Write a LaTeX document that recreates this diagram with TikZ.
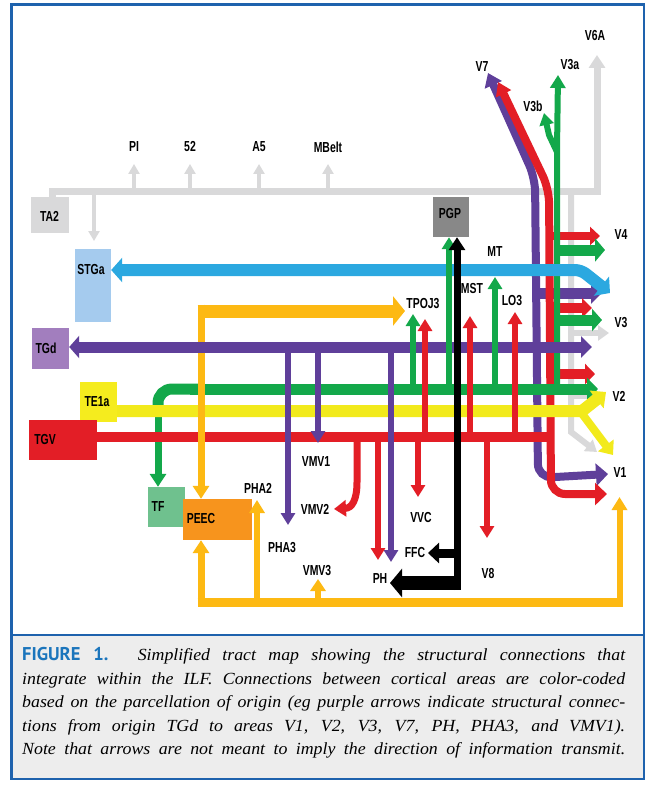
\documentclass[tikz,border=0pt]{standalone}
\usepackage{fontspec}
\setmainfont{Liberation Serif}
\newfontfamily\capfont[FakeStretch=1.05]{Liberation Serif}
\newfontfamily\lblfont[FakeStretch=0.72]{Liberation Sans}
\newfontfamily\figfont{PT Sans}
\usetikzlibrary{arrows.meta}
\definecolor{cred}{HTML}{E31E26}
\definecolor{cgreen}{HTML}{13A84A}
\definecolor{cpurple}{HTML}{5F3F9A}
\definecolor{cyellow}{HTML}{F2EA1C}
\definecolor{cgold}{HTML}{FDB913}
\definecolor{cblue}{HTML}{2BA8E0}
\definecolor{cgray}{HTML}{D9D9DA}
\definecolor{frameblue}{HTML}{1E62AD}
\definecolor{capgray}{HTML}{EDEDED}
\definecolor{captitle}{HTML}{1B75BC}
\definecolor{boxtgd}{HTML}{A27EBE}
\definecolor{boxstga}{HTML}{A5CBEE}
\definecolor{boxtf}{HTML}{6FC18E}
\definecolor{boxpeec}{HTML}{F7941D}
\definecolor{boxpgp}{HTML}{888888}
\definecolor{boxte}{HTML}{F5EC1E}
\begin{document}
\begin{tikzpicture}[x=1pt,y=-1pt,
  lbl/.style={font=\lblfont\bfseries\fontsize{14.5}{15}\selectfont, inner sep=0pt},
  area/.style={inner sep=0pt, draw=none},
  sh/.style={-{Triangle[width=14pt,length=12pt]}},
  thin/.style={line width=6pt},
]
\useasboundingbox (0,0) rectangle (647,786);
\fill[white] (0,0) rectangle (647,786);
\fill[capgray] (11.5,635) rectangle (644,779);
\draw[frameblue, line width=2.6pt] (11.5,4.5) rectangle (644,779);
\draw[frameblue, line width=2.6pt] (11.5,635) -- (644,635);

% ---------- boxes ----------
\node[area, fill=cgray, minimum width=38pt, minimum height=36pt] (ta2) at (50,215) {};
\node[area, fill=boxstga, minimum width=36pt, minimum height=73pt] (stga) at (93,285.5) {};
\node[area, fill=boxtgd, minimum width=37pt, minimum height=41pt] (tgd) at (50.5,348.5) {};
\node[area, fill=boxte, minimum width=37pt, minimum height=40pt] (te1a) at (98.5,402) {};
\node[area, fill=cred, minimum width=68pt, minimum height=40pt] (tgv) at (63,440) {};
\node[area, fill=boxpgp, minimum width=36pt, minimum height=40pt] (pgp) at (451,217) {};
\node[area, fill=boxtf, minimum width=37pt, minimum height=40pt] (tf) at (166.5,507) {};
\node[area, fill=boxpeec, minimum width=69pt, minimum height=41pt] (peec) at (217.5,519.5) {};

% ---------- gray (TA2) ----------
\draw[cgray, line width=7pt, -{Triangle[width=16pt,length=13pt]}] (52,198) |- (597,192) -- (597,55);
\foreach \xx in {134,190,259,328}
  \draw[cgray, line width=4pt, -{Triangle[width=11pt,length=10pt]}] (\xx,192) -- (\xx,164);
\draw[cgray, line width=4pt, -{Triangle[width=11pt,length=10pt]}] (94,192) -- (94,241);
\draw[cgray, line width=6pt, -{Triangle[width=14pt,length=11pt]}] (571,192) -- (571,432) -- (597,452);
\draw[cgray, line width=6pt, -{Triangle[width=15pt,length=11pt]}] (571,333) -- (609,333);
\draw[cgray, line width=6pt, -{Triangle[width=15pt,length=11pt]}] (571,396) -- (600,396);

% ---------- right bundles ----------
\draw[cpurple, line width=8pt, rounded corners=14pt, {Triangle[width=18pt,length=13pt]}-{Triangle[width=22pt,length=12pt]}] (488,73) -- (535,178) -- (538,478) -- (608,474);
\draw[cpurple, line width=11pt, -{Triangle[width=21pt,length=11pt]}] (536,293) -- (602,293);

\draw[cred, line width=8pt, rounded corners=14pt, {Triangle[width=16pt,length=13pt]}-{Triangle[width=22pt,length=12pt]}] (498,82) -- (549,189) -- (551,494) -- (607,494);
\draw[cred, line width=8pt, -{Triangle[width=18pt,length=10pt]}] (549,236) -- (600,236);
\draw[cred, line width=10pt, -{Triangle[width=19pt,length=10pt]}] (549,308) -- (592,308);
\draw[cred, line width=10pt, -{Triangle[width=20pt,length=10pt]}] (549,374) -- (595,374);

\draw[cgreen, line width=6pt, {Triangle[width=15pt,length=13pt]}-] (558,75) -- (557,150) -- (557,389);
\draw[cgreen, line width=6pt, -{Triangle[width=14pt,length=12pt]}] (557,152) -- (549,135) -- (544,113);
\draw[cgreen, line width=11pt, -{Triangle[width=23pt,length=10pt]}] (557,250) -- (605,250);
\draw[cgreen, line width=11pt, -{Triangle[width=22pt,length=10pt]}] (557,320) -- (602,320);

% ---------- main horizontals ----------
\draw[cblue, line width=12pt, rounded corners=6pt, {Triangle[width=24pt,length=11pt]}-{Triangle[width=24pt,length=11pt]}] (stga.east |- 0,270) -- (581,270) -- (610,293);

\draw[cgreen, line width=11pt, -{Triangle[width=22pt,length=11pt]}] (190,389) -- (598,389);
\draw[cgreen, line width=11pt, rounded corners=14pt] (200,389) -- (158,389) -- (158,414);
\draw[cgreen, line width=7pt, -{Triangle[width=16pt,length=13pt]}] (158,408) -- (tf.north -| 158,0);

\draw[cyellow, line width=12pt, -{Triangle[width=22pt,length=12pt]}] (te1a.east |- 0,411) -- (582,411) -- (606,392);
\draw[cyellow, line width=8pt, -{Triangle[width=19pt,length=12pt]}] (580,411) -- (613,455);

\draw[cred, line width=10pt] (tgv.east |- 0,437) -- (551,437);

% ---------- gold (PEEC) ----------
\draw[cgold, line width=7pt, -{Triangle[width=16pt,length=13pt]}] (201,304.5) -- (peec.north -| 201,0);
\draw[cgold, line width=9pt] (197.5,602) -- (623,602);
\draw[cgold, line width=7pt, -{Triangle[width=16pt,length=13pt]}] (201,606) -- (peec.south -| 201,0);
\draw[cgold, line width=6pt, -{Triangle[width=15pt,length=13pt]}] (257,600) -- (257,500);
\draw[cgold, line width=6pt, -{Triangle[width=15pt,length=12pt]}] (318,600) -- (318,579);
\draw[cgold, line width=6pt, -{Triangle[width=15pt,length=13pt]}] (619.5,606) -- (619.5,497);

\draw[cpurple, line width=11pt, {Triangle[width=22pt,length=10pt]}-{Triangle[width=21pt,length=11pt]}] (tgd.east |- 0,347) -- (592,347);
\draw[cgold, line width=13pt, -{Triangle[width=29pt,length=12pt]}] (197.5,311) -- (405,311);

% ---------- small verticals ----------
\draw[cpurple, thin, sh] (288,347) -- (288,525);
\draw[cpurple, thin, sh] (318,347) -- (318,443);
\draw[cpurple, thin, sh] (391,347) -- (391,562);

\draw[cgreen, thin, sh] (413,389) -- (413,314);
\draw[cgreen, thin, sh] (449,389) -- (pgp.south -| 449,0);
\draw[cgreen, thin, sh] (495,389) -- (495,277);

\draw[cred, thin, sh] (425,437) -- (425,319);
\draw[cred, thin, sh] (470,437) -- (470,316);
\draw[cred, thin, sh] (515,437) -- (515,312);
\draw[cred, thin, sh] (378,437) -- (378,560);
\draw[cred, thin, sh] (418,437) -- (418,497);
\draw[cred, thin, sh] (487,437) -- (487,538);
\draw[cred, line width=7pt, -{Triangle[width=16pt,length=12pt]}] (357,437) -- (357,482) .. controls (357,500) and (352,508) .. (334,509);

% ---------- black (PGP) ----------
\draw[black, line width=7pt, -{Triangle[width=16pt,length=13pt]}] (457,590) -- (pgp.south -| 457,0);
\draw[black, line width=14pt, -{Triangle[width=28pt,length=12pt]}] (460.5,583) -- (390,583);
\draw[black, line width=9pt, -{Triangle[width=20pt,length=11pt]}] (457,553) -- (428,553);

% ---------- labels ----------
\node[lbl] at (49.5,216) {TA2};
\node[lbl] at (91,270) {STGa};
\node[lbl] at (46,348) {TGd};
\node[lbl] at (97,402) {TE1a};
\node[lbl] at (45,440) {TGV};
\node[lbl] at (450,214) {PGP};
\node[lbl] at (158,507) {TF};
\node[lbl] at (201,519) {PEEC};

\node[lbl] at (134,147) {PI};
\node[lbl] at (190,147) {52};
\node[lbl] at (259,147) {A5};
\node[lbl] at (328,147) {MBelt};
\node[lbl] at (482,67) {V7};
\node[lbl] at (570,65) {V3a};
\node[lbl] at (533,106) {V3b};
\node[lbl] at (595,36) {V6A};

\node[lbl] at (495,252) {MT};
\node[lbl] at (472,289) {MST};
\node[lbl] at (512,301) {LO3};
\node[lbl] at (423,304) {TPOJ3};

\node[lbl] at (621,235) {V4};
\node[lbl] at (621,323) {V3};
\node[lbl] at (619,396) {V2};
\node[lbl] at (620,473) {V1};

\node[lbl] at (258,488) {PHA2};
\node[lbl] at (282,548) {PHA3};
\node[lbl] at (316,462) {VMV1};
\node[lbl] at (315,509) {VMV2};
\node[lbl] at (317,571) {VMV3};
\node[lbl] at (380,579) {PH};
\node[lbl] at (415,553) {FFC};
\node[lbl] at (421,518) {VVC};
\node[lbl] at (488,574) {V8};

% ---------- caption ----------
\node[anchor=north west, inner sep=0pt, text width=603pt, align=justify, font=\capfont\fontsize{17}{23.6}\selectfont] (cap) at (22,647)
{\parfillskip=0pt {\figfont\bfseries\color{captitle}\fontsize{18.5}{23.6}\selectfont FIGURE 1.} \textit{Simplified tract map showing the structural connections that\linebreak integrate within the ILF. Connections between cortical areas are color-coded\linebreak based on the parcellation of origin (eg purple arrows indicate structural connec-\linebreak tions from origin TGd to areas V1, V2, V3, V7, PH, PHA3, and VMV1).\linebreak Note that arrows are not meant to imply the direction of information transmit.}\par};
\end{tikzpicture}
\end{document}
